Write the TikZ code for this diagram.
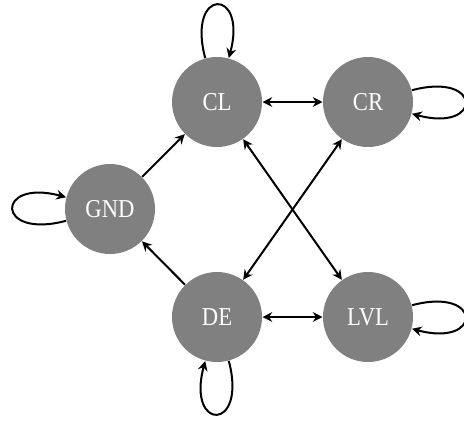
\documentclass[tikz,border=0pt]{standalone}
\usepackage{fontspec}
\setmainfont{Liberation Serif}[FakeStretch=0.88]
\usetikzlibrary{arrows.meta}
\begin{document}
\begin{tikzpicture}[x=0.4pt,y=-0.4pt,
  >={Stealth[length=3.9pt,width=3.9pt,inset=1.3pt]},
  state/.style={circle,fill=black!50,text=white,minimum size=36pt,inner sep=0pt,font=\fontsize{10.3pt}{12pt}\selectfont},
  conn/.style={thick,->},
  every loop/.style={thick,->}]
\useasboundingbox (0,0) rectangle (464,421);
\node[state] (CL)  at (217,102) {CL};
\node[state] (CR)  at (368,102) {CR};
\node[state] (GND) at (110,209) {GND};
\node[state] (DE)  at (217,317) {DE};
\node[state] (LVL) at (368,317) {LVL};
\draw[conn,<->] (CL) -- (CR);
\draw[conn,<->] (DE) -- (LVL);
\draw[conn] (GND) -- (CL);
\draw[conn] (DE) -- (GND);
\draw[conn,<->] (CL) -- (LVL);
\draw[conn,<->] (CR) -- (DE);
\path (CL) edge[loop above] (CL);
\path (CR) edge[loop right] (CR);
\path (GND) edge[loop left] (GND);
\path (DE) edge[loop below] (DE);
\path (LVL) edge[loop right] (LVL);
\end{tikzpicture}
\end{document}
